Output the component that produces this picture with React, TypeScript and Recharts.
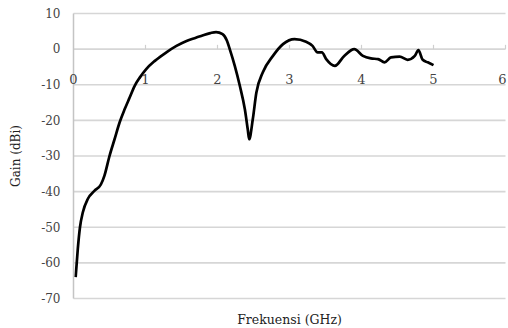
import React from 'react';
import { LineChart, Line, XAxis, YAxis, CartesianGrid, ReferenceDot, ReferenceLine } from 'recharts';

const freqGHz = [
  0.03, 0.06, 0.09, 0.13, 0.2, 0.29, 0.38, 0.43, 0.5, 0.57, 0.64, 0.71, 0.78, 0.85, 0.92, 1.01,
  1.13, 1.29, 1.43, 1.57, 1.7, 1.8, 1.9, 1.98, 2.07, 2.13, 2.17, 2.24, 2.31, 2.38, 2.42, 2.44,
  2.49, 2.54, 2.63, 2.77, 2.91, 3.07, 3.23, 3.32, 3.39, 3.45, 3.51, 3.63, 3.76, 3.9, 4.02, 4.13,
  4.23, 4.32, 4.41, 4.53, 4.64, 4.74, 4.79, 4.85, 4.92, 5.0,
];
const gainDBi = [
  -64, -56, -50, -45.8, -42, -39.8, -38, -35.5, -30, -25.3, -20.6, -16.9, -13.6, -10.3, -8, -5.6,
  -3.3, -0.9, 0.9, 2.3, 3.2, 3.9, 4.5, 4.8, 4.2, 2.4, 0, -4.7, -10.3, -16.9, -22.5, -25.3,
  -19.7, -12.2, -6.5, -1.9, 1.4, 2.8, 2.1, 0.9, -0.9, -0.9, -2.8, -4.7, -1.9, 0, -1.9, -2.6,
  -2.8, -3.7, -2.3, -2.1, -3.0, -1.9, -0.3, -3.0, -3.7, -4.5,
];
const xTicks = [0, 1, 2, 3, 4, 5, 6];
const yTicks = [10, 0, -10, -20, -30, -40, -50, -60, -70];

const data = freqGHz.map((f, i) => ({ f, g: gainDBi[i] }));

const FONT = 'DejaVu Serif';

export default function App() {
  return (
    <div style={{ position: 'absolute', left: 0, top: 0, width: 508, height: 328, background: '#fff' }}>
      <LineChart
        width={508}
        height={328}
        data={data}
        margin={{ top: 13.5, right: 2.5, left: 13.5, bottom: 0 }}
        style={{ fontFamily: FONT }}
      >
        <CartesianGrid vertical={false} stroke="#d6d6d6" strokeWidth={1.6} />
        <XAxis
          type="number"
          dataKey="f"
          domain={[0, 6]}
          ticks={xTicks}
          tick={false}
          axisLine={false}
          tickLine={false}
          height={29.5}
          label={{
            value: 'Frekuensi (GHz)',
            position: 'insideBottom',
            offset: 4,
            fill: '#222',
            fontSize: 12.5,
            fontFamily: FONT,
          }}
        />
        <YAxis
          type="number"
          domain={[-70, 10]}
          ticks={yTicks}
          width={60}
          tickSize={0}
          tickMargin={13}
          axisLine={{ stroke: '#c4c4c4', strokeWidth: 1.5 }}
          tickLine={false}
          tick={{ fill: '#444', fontSize: 12, fontFamily: FONT }}
          interval={0}
          label={{
            value: 'Gain (dBi)',
            angle: -90,
            position: 'insideLeft',
            offset: 2,
            fill: '#222',
            fontSize: 12,
            fontFamily: FONT,
            style: { textAnchor: 'middle' },
          }}
        />
        {xTicks.slice(1).map((t) => (
          <ReferenceLine
            key={`tk${t}`}
            segment={[{ x: t, y: 0 }, { x: t, y: 1.2 }]}
            stroke="#cfcfcf"
            strokeWidth={1.2}
            ifOverflow="visible"
          />
        ))}
        {xTicks.map((t, i) => (
          <ReferenceDot
            key={`lb${t}`}
            x={t}
            y={0}
            r={0}
            fill="none"
            stroke="none"
            ifOverflow="visible"
            label={{
              value: String(t),
              position: 'bottom',
              offset: 26,
              fill: '#444',
              fontSize: 13,
              fontFamily: FONT,
              dx: i === xTicks.length - 1 ? -3 : 0,
            }}
          />
        ))}
        <Line
          type="monotone"
          dataKey="g"
          stroke="#000"
          strokeWidth={2.7}
          dot={false}
          isAnimationActive={false}
        />
      </LineChart>
    </div>
  );
}
